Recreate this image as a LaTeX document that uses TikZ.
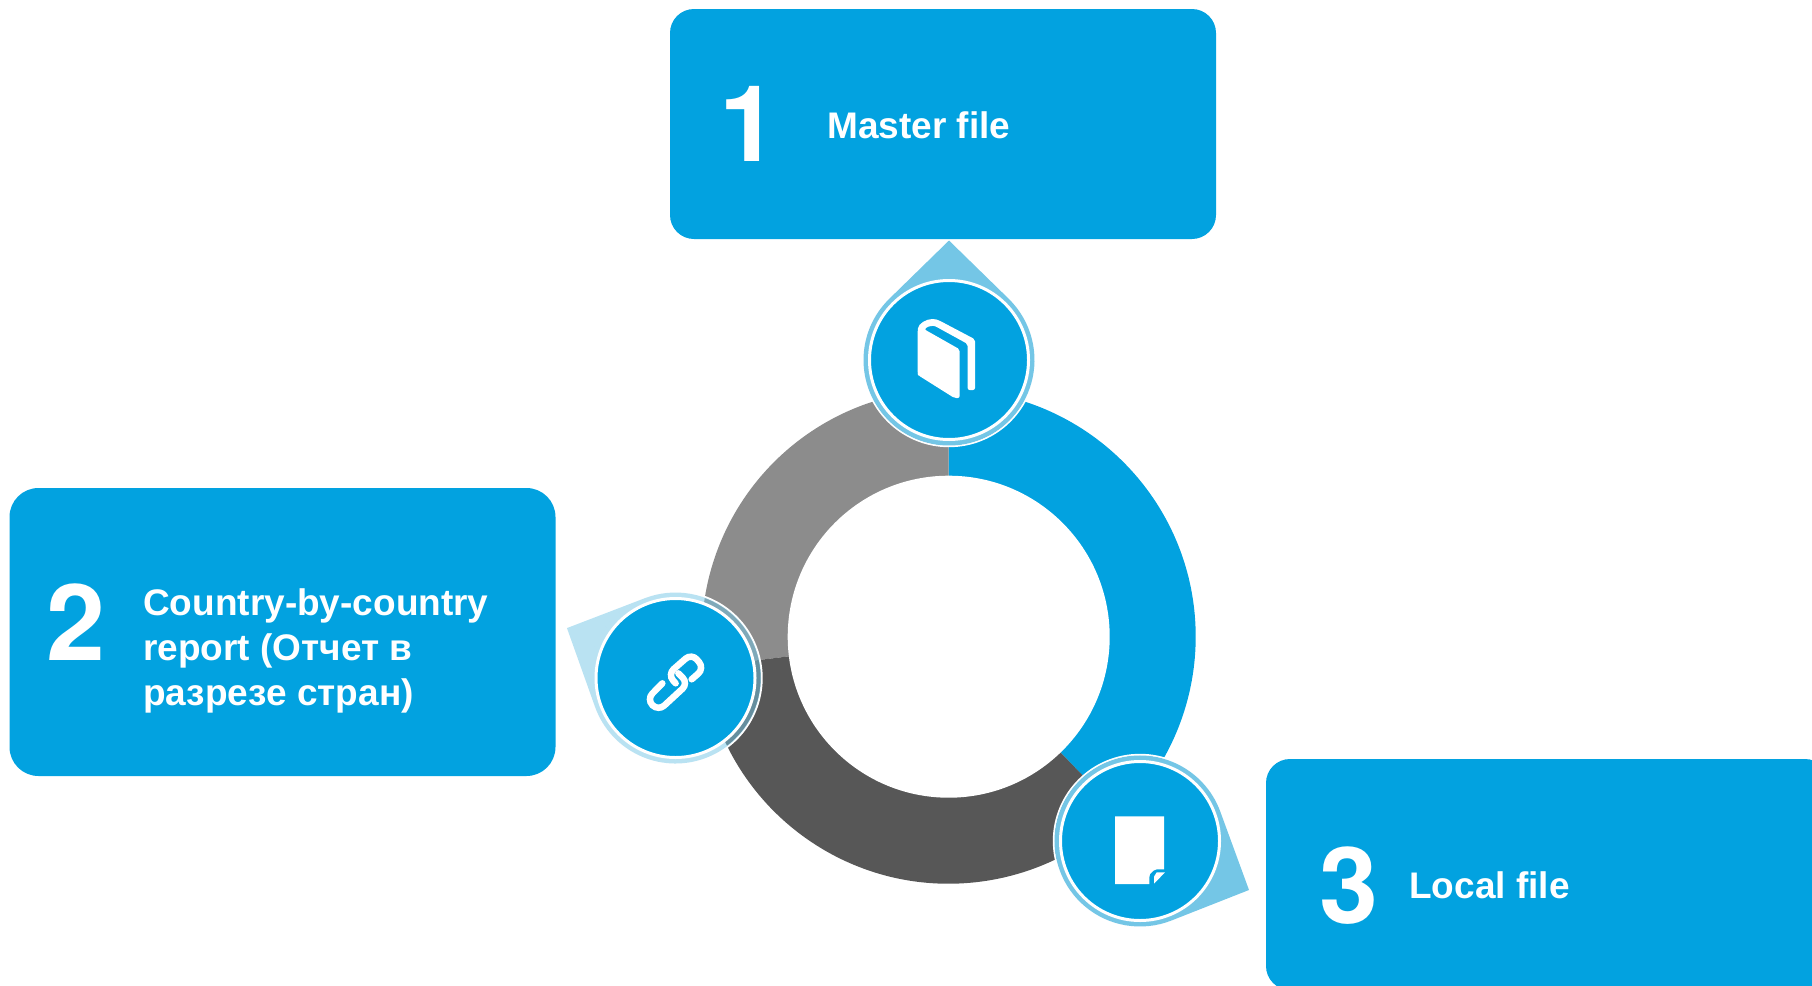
\documentclass[tikz,border=0pt]{standalone}
\usepackage{xcolor}
\usepackage{fontspec}
\setmainfont{Liberation Sans}
\newfontfamily\numfont{TeX Gyre Heros}
\usepackage{tikz}
\definecolor{boxblue}{HTML}{02A2E0}
\definecolor{droptint}{HTML}{74C6E6}
\definecolor{midgrey}{HTML}{8C8C8C}
\definecolor{darkgrey}{HTML}{575757}
\newcommand{\ringpart}[3]{\fill[#1] ([shift={(#2:247)}]ringc) arc (#2:#3:247) -- (ringc) -- cycle;}
\newcommand{\hubdrop}[3]{
	\draw[white,line width=2pt] (#1) circle (86.2);
	\fill[droptint,opacity=#3,shift={(#1)},rotate=#2] (119.5,0) -- (44.3:85.5) arc (44.3:315.7:85.5) -- cycle;
}

\begin{document}
\begin{tikzpicture}[x=1pt,y=1pt,box node/.style={rectangle, rounded corners=24pt, fill=boxblue, inner sep=0pt},hub node/.style={circle, fill=boxblue, draw=white, line width=3pt, minimum size=159pt, inner sep=0pt},num node/.style={anchor=base west, inner sep=0pt, text=white, font=\fontsize{106}{106}\numfont\bfseries},label node/.style={anchor=base west, inner sep=0pt, text=white, align=left, font=\fontsize{37}{45}\selectfont\bfseries},icon/.style={fill=white, draw=none}]
			
			\useasboundingbox (0,0) rectangle (1812,-985);
			\clip (0,0) rectangle (1812,-985);
			
			\coordinate (ringc) at (948.7,-636.7);
			\coordinate (hub1c) at (949,-360);
			\coordinate (hub2c) at (675.5,-678);
			\coordinate (hub3c) at (1140,-841);
			
			\ringpart{boxblue}{90}{-46}
			\ringpart{midgrey}{90}{187}
			\ringpart{darkgrey}{187}{314}
			\node[circle, fill=white, minimum size=322pt, inner sep=0pt] (ring) at (ringc) {};
			
			\node[box node, minimum width=546pt, minimum height=230pt] (box1) at (943,-124) {};
			\node[box node, rounded corners=29pt, minimum width=546pt, minimum height=288pt] (box2) at (282.5,-632) {};
			\node[box node, minimum width=563pt, minimum height=231pt] (box3) at (1547.5,-874.5) {};
			
			\hubdrop{hub1c}{90}{1}
			\hubdrop{hub2c}{155.3}{0.5}
			\hubdrop{hub3c}{-24.2}{1}
			\node[hub node] (hub1) at (hub1c) {};
			\node[hub node] (hub2) at (hub2c) {};
			\node[hub node] (hub3) at (hub3c) {};
			
			\node[num node] (num1) at (719,-161) {1};
			\node[num node] (num2) at (46,-660) {2};
			\node[num node] (num3) at (1319,-923) {3};
			\node[label node] (label1) at (827,-138) {Master file};
			\node[label node] (label2) at (143,-705) {Country-by-country\\report (Отчет в\\разрезе стран)};
			\node[label node] (label3) at (1409,-898) {Local file};
			
			\begin{scope}[shift={(905,-310)},xscale=1/3,yscale=-1/3]
				\fill[icon, rounded corners=2pt] (38,192) -- (38,62) .. controls (40,40) and (65,27) .. (88,27) -- (100,30) -- (210,88) -- (210,240) -- (188,240) -- (188,102) -- (97,52) .. controls (85,46) and (70,48) .. (58,58) -- (164,118) -- (164,264) -- (148,264) -- (40,196) -- cycle;
			\end{scope}
			
			\begin{scope}[shift={(635,-640)},xscale=1/3,yscale=-1/3]
				\draw[white, line width=6.5pt, line cap=round, rounded corners=8pt] (170,118) -- (208,85) -- (170,40) -- (98,103) -- (122,130);
				\draw[white, line width=6.5pt, line cap=round, rounded corners=8pt] (82,130) -- (35,178) -- (70,213) -- (160,130) -- (130,100);
			\end{scope}
			
			\begin{scope}[shift={(1040,-740)},xscale=1/3,yscale=-1/3]
				\fill[icon] (225,229) -- (372,229) -- (372,388) -- (350,388) -- (340,392) -- (330,402) -- (328,412) -- (328,432) -- (225,432) -- cycle;
				\fill[icon] (342,431) -- (342,410) -- (350,397) -- (375,397) -- cycle;
			\end{scope}
			
		\end{tikzpicture}
\end{document}
